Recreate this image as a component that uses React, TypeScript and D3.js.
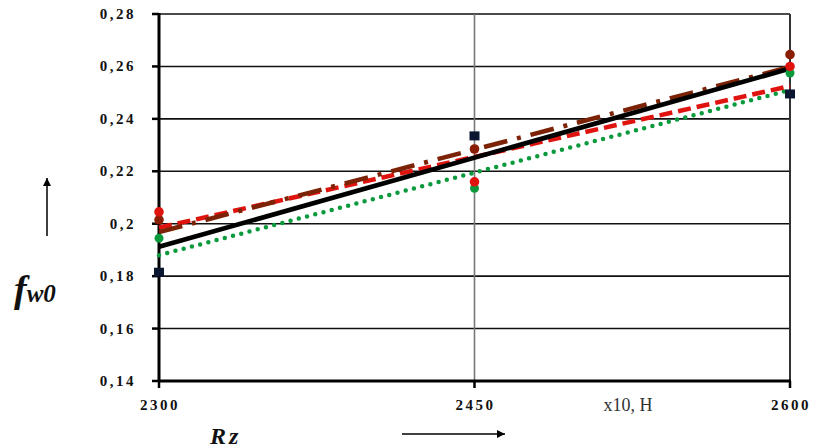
import React from "react";
import * as d3 from "d3";

// Rz values (x10, H)
const xValues = [2300, 2450, 2600];
const yTicks = [0.14, 0.16, 0.18, 0.2, 0.22, 0.24, 0.26, 0.28];

// Measured points per series
const squareValues = [0.1815, 0.2335, 0.2495];
const brownValues = [0.2015, 0.2285, 0.2645];
const redValues = [0.2045, 0.216, 0.26];
const greenValues = [0.1945, 0.2135, 0.2575];

// Linear trend lines, values at 2300 and 2600
const trendX = [2300, 2600];
const blackTrend = [0.1912, 0.2592];
const brownTrend = [0.1968, 0.2598];
const redTrend = [0.1985, 0.2525];
const greenTrend = [0.188, 0.251];

const W = 816;
const H = 448;
const left = 159;
const right = 790;
const top = 14;
const bottom = 381;

const fmt = (v: number) => {
  const s = v.toFixed(2).replace(/0$/, "");
  return s.replace(".", ",");
};

export default function App() {
  const x = d3.scaleLinear().domain([2300, 2600]).range([left, right]);
  const y = d3.scaleLinear().domain([0.14, 0.28]).range([bottom, top]);
  const line = d3
    .line<[number, number]>()
    .x((d) => x(d[0]))
    .y((d) => y(d[1]));
  const trend = (vals: number[]) =>
    line(trendX.map((xv, i) => [xv, vals[i]] as [number, number])) || "";

  const tickFont = "'Liberation Serif', 'Times New Roman', serif";

  return (
    <svg
      width={W}
      height={H}
      style={{ position: "absolute", left: 0, top: 0, background: "#fff" }}
    >
      <defs>
        <marker
          id="arr"
          viewBox="0 0 10 10"
          refX="10"
          refY="5"
          markerWidth="12"
          markerHeight="8"
          markerUnits="userSpaceOnUse"
          orient="auto"
        >
          <path d="M0,0 L10,5 L0,10 z" fill="#000" />
        </marker>
      </defs>

      {/* horizontal grid */}
      {yTicks.map((t) => (
        <line
          key={"g" + t}
          x1={left}
          x2={right}
          y1={y(t)}
          y2={y(t)}
          stroke="#111"
          strokeWidth={1.6}
        />
      ))}
      {/* vertical grid */}
      <line x1={x(2450)} x2={x(2450)} y1={top} y2={bottom} stroke="#777" strokeWidth={1.6} />
      <line x1={x(2600)} x2={x(2600)} y1={top} y2={bottom} stroke="#333" strokeWidth={2} />

      {/* axes */}
      <line x1={left} x2={left} y1={top - 1} y2={bottom + 1} stroke="#000" strokeWidth={3} />
      <line x1={left} x2={right + 1} y1={bottom} y2={bottom} stroke="#000" strokeWidth={3} />
      {yTicks.map((t) => (
        <line key={"yt" + t} x1={left - 7} x2={left} y1={y(t)} y2={y(t)} stroke="#000" strokeWidth={2.5} />
      ))}
      {xValues.map((v) => (
        <line key={"xt" + v} x1={x(v)} x2={x(v)} y1={bottom} y2={bottom + 7} stroke="#000" strokeWidth={2.5} />
      ))}

      {/* tick labels */}
      {yTicks.map((t) => (
        <text
          key={"yl" + t}
          x={136}
          y={y(t) + 5}
          textAnchor="end"
          fontFamily={tickFont}
          fontWeight="bold"
          fontSize={15}
          letterSpacing={2.5}
          fill="#111"
        >
          {fmt(t)}
        </text>
      ))}
      {xValues.map((v) => (
        <text
          key={"xl" + v}
          x={x(v) + 1}
          y={410}
          textAnchor="middle"
          fontFamily={tickFont}
          fontWeight="bold"
          fontSize={15}
          letterSpacing={2.5}
          fill="#111"
        >
          {v}
        </text>
      ))}
      <text x={628} y={411} textAnchor="middle" fontFamily={tickFont} fontSize={18} fill="#333">
        x10, H
      </text>

      {/* axis titles */}
      <text x={210} y={444} fontFamily={tickFont} fontWeight="bold" fontStyle="italic" fontSize={24} fill="#111" letterSpacing={3}>
        Rz
      </text>
      <line x1={402} x2={505} y1={434} y2={434} stroke="#000" strokeWidth={1.5} markerEnd="url(#arr)" />
      <text x={14} y={302} fontFamily={tickFont} fontWeight="bold" fontStyle="italic" fill="#111">
        <tspan fontSize={38}>f</tspan>
        <tspan fontSize={25}>w0</tspan>
      </text>
      <line x1={47} x2={47} y1={236} y2={178} stroke="#000" strokeWidth={1.5} markerEnd="url(#arr)" />

      {/* trend lines */}
      <path d={trend(greenTrend)} fill="none" stroke="#0a9a3c" strokeWidth={4.5} strokeLinecap="round" strokeDasharray="0 8.5" />
      <path d={trend(redTrend)} fill="none" stroke="#e0140f" strokeWidth={4.5} strokeDasharray="13 6" />
      <path d={trend(brownTrend)} fill="none" stroke="#7c2206" strokeWidth={4.5} strokeDasharray="24 10 4 10" />
      <path d={trend(blackTrend)} fill="none" stroke="#000" strokeWidth={4.8} />

      {/* measured points */}
      {xValues.map((v, i) => (
        <circle key={"gm" + v} cx={x(v)} cy={y(greenValues[i])} r={4.5} fill="#0a9a3c" />
      ))}
      {xValues.map((v, i) => (
        <circle key={"bm" + v} cx={x(v)} cy={y(brownValues[i])} r={4.8} fill="#8a1e04" />
      ))}
      {xValues.map((v, i) => (
        <circle key={"rm" + v} cx={x(v)} cy={y(redValues[i])} r={4.8} fill="#e0140f" />
      ))}
      {xValues.map((v, i) => (
        <rect
          key={"sq" + v}
          x={x(v) - 5}
          y={y(squareValues[i]) - 4.5}
          width={10}
          height={9}
          fill="#0b1730"
        />
      ))}
    </svg>
  );
}
